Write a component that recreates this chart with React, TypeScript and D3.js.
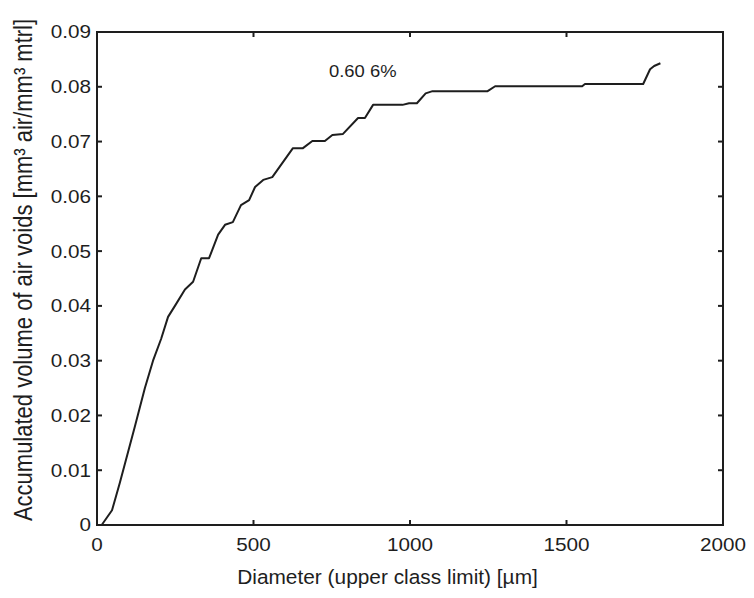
import React from "react";
import * as d3 from "d3";

const diameters = [15, 48, 73, 121, 153, 179, 205, 227, 249, 281, 307, 333, 358, 387, 409, 434, 460, 486, 505, 531, 560, 626, 658, 688, 728, 752, 786, 834, 856, 882, 976, 997, 1022, 1050, 1072, 1248, 1272, 1550, 1559, 1745, 1767, 1780, 1800];
const volumes = [0, 0.0027, 0.0077, 0.018, 0.025, 0.03, 0.034, 0.038, 0.04, 0.043, 0.0444, 0.0487, 0.0487, 0.053, 0.0548, 0.0553, 0.0584, 0.0593, 0.0617, 0.063, 0.0635, 0.0688, 0.0688, 0.0701, 0.0701, 0.0712, 0.0714, 0.0743, 0.0743, 0.0767, 0.0767, 0.077, 0.077, 0.0788, 0.0792, 0.0792, 0.0801, 0.0801, 0.0805, 0.0805, 0.0832, 0.0838, 0.0843];
const xTicks = [0, 500, 1000, 1500, 2000];
const yTicks = [0, 0.01, 0.02, 0.03, 0.04, 0.05, 0.06, 0.07, 0.08, 0.09];
const annotation = "0.60 6%";
const xLabel = "Diameter (upper class limit) [\u00b5m]";
const yLabel = "Accumulated volume of air voids [mm\u00b3 air/mm\u00b3 mtrl]";

const W = 754, H = 598;
const L = 97, R = 723, T = 32, B = 525;

export default function App() {
  const x = d3.scaleLinear().domain([0, 2000]).range([L, R]);
  const y = d3.scaleLinear().domain([0, 0.09]).range([B, T]);
  const pts = diameters.map((d, i) => [d, volumes[i]] as [number, number]);
  const line = d3.line<[number, number]>().x(d => x(d[0])).y(d => y(d[1]));
  const ink = "#1e1e1e";
  const font = "'Liberation Sans', Arial, sans-serif";
  const tl = 5;
  const sx = (cx: number, s: number) => `translate(${cx},0) scale(${s},1) translate(${-cx},0)`;
  return (
    <svg width={W} height={H} style={{ position: "absolute", left: 0, top: 0, background: "#fff" }} fontFamily={font}>
      <rect x={0} y={0} width={W} height={H} fill="#fff" />
      <path d={line(pts) || ""} fill="none" stroke={ink} strokeWidth={2} strokeLinejoin="round" />
      {xTicks.slice(1, -1).map(t => (
        <g key={"xt" + t}>
          <line x1={x(t)} x2={x(t)} y1={B} y2={B - tl} stroke={ink} strokeWidth={2} />
          <line x1={x(t)} x2={x(t)} y1={T} y2={T + tl} stroke={ink} strokeWidth={2} />
        </g>
      ))}
      {yTicks.slice(1, -1).map(t => (
        <g key={"yt" + t}>
          <line x1={L} x2={L + tl} y1={y(t)} y2={y(t)} stroke={ink} strokeWidth={2} />
          <line x1={R} x2={R - tl} y1={y(t)} y2={y(t)} stroke={ink} strokeWidth={2} />
        </g>
      ))}
      <rect x={L} y={T} width={R - L} height={B - T} fill="none" stroke={ink} strokeWidth={2} />
      {xTicks.map(t => (
        <text key={"xl" + t} x={x(t)} y={551} textAnchor="middle" fontSize={18} fill={ink}
          transform={sx(x(t), 1.15)}>{t}</text>
      ))}
      {yTicks.map(t => (
        <text key={"yl" + t} x={91} y={y(t) + 6.5} textAnchor="end" fontSize={18} fill={ink}
          transform={sx(91, 1.15)}>{t === 0 ? "0" : d3.format(".2f")(t)}</text>
      ))}
      <text x={387.5} y={584} textAnchor="middle" fontSize={19.5} fill={ink} transform={sx(387.5, 1.07)}>{xLabel}</text>
      <text transform={`translate(32,270) scale(1.18,1) rotate(-90)`} textAnchor="middle" fontSize={22} fill={ink}>{yLabel}</text>
      <text x={329} y={77} fontSize={16} fill={ink} transform={sx(329, 1.15)}>{annotation}</text>
    </svg>
  );
}
